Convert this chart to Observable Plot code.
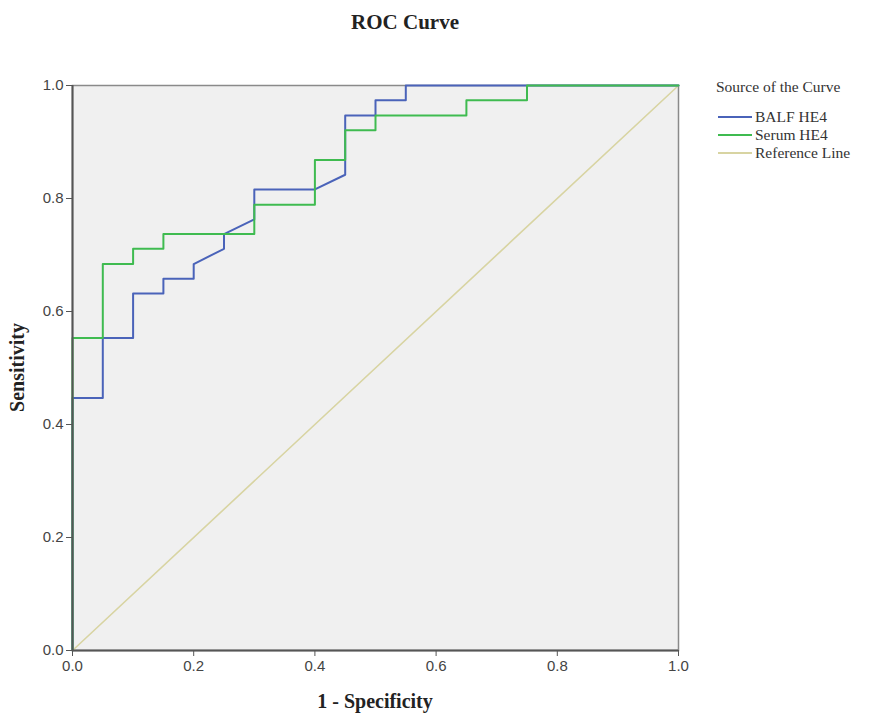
<!DOCTYPE html>
<html>
<head>
<meta charset="utf-8">
<script src="https://cdn.jsdelivr.net/npm/d3@7"></script>
<script src="https://cdn.jsdelivr.net/npm/@observablehq/plot@0.6"></script>
<style>
  html, body { margin: 0; padding: 0; background: #fff; }
  #chart { position: relative; width: 873px; height: 713px; }
</style>
</head>
<body>
<div id="chart"></div>
<script>
// ---- Data ----
const seriesNames = ["BALF HE4", "Serum HE4", "Reference Line"];
const seriesColors = ["#4a63b9", "#3fbb50", "#d8d4a2"];

const balfX = [0, 0, 0.05, 0.05, 0.10, 0.10, 0.15, 0.15, 0.20, 0.20, 0.25, 0.25, 0.30, 0.30, 0.40, 0.45, 0.45, 0.50, 0.50, 0.55, 0.55, 1.0];
const balfY = [0, 0.447, 0.447, 0.553, 0.553, 0.632, 0.632, 0.658, 0.658, 0.684, 0.711, 0.737, 0.763, 0.816, 0.816, 0.842, 0.947, 0.947, 0.974, 0.974, 1.0, 1.0];

const serumX = [0, 0, 0.05, 0.05, 0.10, 0.10, 0.15, 0.15, 0.30, 0.30, 0.40, 0.40, 0.45, 0.45, 0.50, 0.50, 0.65, 0.65, 0.75, 0.75, 1.0];
const serumY = [0, 0.553, 0.553, 0.684, 0.684, 0.711, 0.711, 0.737, 0.737, 0.789, 0.789, 0.868, 0.868, 0.921, 0.921, 0.947, 0.947, 0.974, 0.974, 1.0, 1.0];

const refX = [0, 1];
const refY = [0, 1];

const tickValues = [0, 0.2, 0.4, 0.6, 0.8, 1.0];

const chartTitle = "ROC Curve";
const xLabel = "1 - Specificity";
const yLabel = "Sensitivity";
const legendTitle = "Source of the Curve";

// ---- Build tables ----
const toRows = (xs, ys, name) => xs.map((x, i) => ({x, y: ys[i], name}));
const balf = toRows(balfX, balfY, seriesNames[0]);
const serum = toRows(serumX, serumY, seriesNames[1]);
const ref = toRows(refX, refY, seriesNames[2]);

const W = 873, H = 713;
const mL = 72, mR = 195, mT = 85, mB = 63;

const tickFont = "'Liberation Sans Narrow', 'Liberation Sans', Arial, sans-serif";
const serif = "'Liberation Serif', 'DejaVu Serif', serif";

const plot = Plot.plot({
  width: W,
  height: H,
  marginLeft: mL,
  marginRight: mR,
  marginTop: mT,
  marginBottom: mB,
  style: {fontFamily: tickFont, fontSize: "15px", color: "#444", background: "#fff"},
  x: {domain: [0, 1]},
  y: {domain: [0, 1]},
  color: {domain: seriesNames, range: seriesColors},
  marks: [
    Plot.frame({fill: "#f0f0f0", stroke: "#8a8a8a", strokeWidth: 1.5}),
    Plot.line(ref, {x: "x", y: "y", stroke: "name", strokeWidth: 1.6}),
    Plot.line(balf, {x: "x", y: "y", stroke: "name", strokeWidth: 2}),
    Plot.line(serum, {x: "x", y: "y", stroke: "name", strokeWidth: 2}),
    Plot.ruleX([0], {stroke: "#555", strokeWidth: 2}),
    Plot.ruleY([0], {stroke: "#555", strokeWidth: 2}),
    Plot.axisX({ticks: tickValues, tickFormat: d3.format(".1f"), tickSize: 6, tickPadding: 4, label: null, stroke: "#555"}),
    Plot.axisY({ticks: tickValues, tickFormat: d3.format(".1f"), tickSize: 6, tickPadding: 3, label: null, stroke: "#555"})
  ]
});

document.getElementById("chart").appendChild(plot);

// ---- Titles and legend as real text ----
const svg = d3.select(plot);
const plotCenterX = mL + (W - mL - mR) / 2;
const plotCenterY = mT + (H - mT - mB) / 2;

svg.append("text")
  .attr("x", 405).attr("y", 29)
  .attr("text-anchor", "middle")
  .style("font-family", serif).style("font-weight", "bold").style("font-size", "21px").style("fill", "#222")
  .text(chartTitle);

svg.append("text")
  .attr("x", plotCenterX).attr("y", 708)
  .attr("text-anchor", "middle")
  .style("font-family", serif).style("font-weight", "bold").style("font-size", "20px").style("fill", "#222")
  .text(xLabel);

svg.append("text")
  .attr("transform", `translate(24,${plotCenterY}) rotate(-90)`)
  .attr("text-anchor", "middle")
  .style("font-family", serif).style("font-weight", "bold").style("font-size", "20px").style("fill", "#222")
  .text(yLabel);

const lg = svg.append("g").attr("transform", "translate(716,0)").attr("text-anchor", "start");
lg.append("text")
  .attr("x", 0).attr("y", 92)
  .attr("text-anchor", "start")
  .style("font-family", serif).style("font-size", "15.5px").style("fill", "#333")
  .text(legendTitle);
seriesNames.forEach((name, i) => {
  const y = 117 + i * 18;
  lg.append("line")
    .attr("x1", 2).attr("x2", 36).attr("y1", y).attr("y2", y)
    .attr("stroke", seriesColors[i]).attr("stroke-width", 2);
  lg.append("text")
    .attr("x", 39).attr("y", y + 5)
    .attr("text-anchor", "start")
    .style("font-family", serif).style("font-size", "15.5px").style("fill", "#333")
    .text(name);
});
</script>
</body>
</html>
